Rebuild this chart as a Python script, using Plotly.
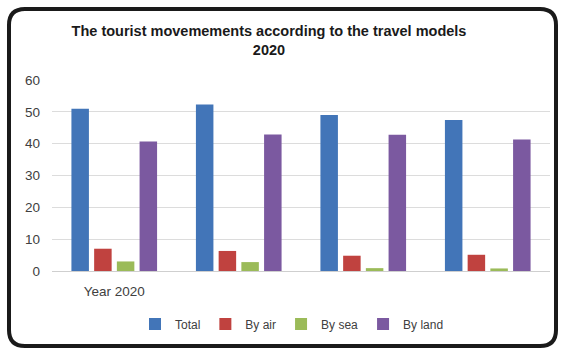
import plotly.graph_objects as go

categories = ["Year 2020", " ", "  ", "   "]
total = [51, 52.3, 49, 47.4]
by_air = [7, 6.3, 4.8, 5.1]
by_sea = [3, 2.8, 0.9, 0.8]
by_land = [40.7, 42.9, 42.8, 41.3]

series = [
    ("Total", total, "#4275B8"),
    ("By air", by_air, "#C0423F"),
    ("By sea", by_sea, "#9BBB59"),
    ("By land", by_land, "#7B59A0"),
]

W, H = 563, 353
ml, mr, mt, mb = 52, 13, 80, 82
pw, ph = W - ml - mr, H - mt - mb

fig = go.Figure()
for name, vals, col in series:
    fig.add_trace(go.Bar(x=categories, y=vals, name=name, marker_color=col,
                         marker_line_width=0))

def px2paper(x, y):
    return (x - ml) / pw, (H - mb - y) / ph

x0, y0, x1, y1, r = 9, 9, 556, 346, 16
def P(x, y):
    a, b = px2paper(x, y)
    return f"{a:.5f},{b:.5f}"
path = (f"M {P(x0 + r, y0)} L {P(x1 - r, y0)} Q {P(x1, y0)} {P(x1, y0 + r)} "
        f"L {P(x1, y1 - r)} Q {P(x1, y1)} {P(x1 - r, y1)} "
        f"L {P(x0 + r, y1)} Q {P(x0, y1)} {P(x0, y1 - r)} "
        f"L {P(x0, y0 + r)} Q {P(x0, y0)} {P(x0 + r, y0)} Z")

fig.update_layout(
    width=W, height=H,
    margin=dict(l=ml, r=mr, t=mt, b=mb),
    paper_bgcolor="white", plot_bgcolor="white",
    barmode="group", bargap=0.27, bargroupgap=0.23,
    font=dict(family="Liberation Sans, Arial, sans-serif", color="#404040", size=12),
    title=dict(text="<b>The tourist movemements according to the travel models<br>2020</b>",
               x=269 / W, xanchor="center", y=1 - 36 / H, yanchor="top",
               font=dict(size=14.5, color="#1a1a1a")),
    xaxis=dict(showgrid=False, showline=False, ticks="", ticklabelstandoff=10,
               tickfont=dict(size=13.5, color="#404040")),
    yaxis=dict(range=[0, 60], dtick=10, showgrid=True, gridcolor="#dcdcdc", gridwidth=1,
               zeroline=True, zerolinecolor="#cfcfcf", zerolinewidth=1, showline=False,
               ticks="", ticklabelstandoff=11, tickfont=dict(size=13.5, color="#404040")),
    legend=dict(orientation="h", x=px2paper(292, 0)[0], xanchor="center",
                y=px2paper(0, 324)[1], yanchor="middle", font=dict(size=12, color="#404040"),
                itemwidth=30, traceorder="normal"),
    shapes=[dict(type="path", path=path, xref="paper", yref="paper",
                 line=dict(color="#1a1a1a", width=4), layer="above")],
)

fig.write_html("out.html")
